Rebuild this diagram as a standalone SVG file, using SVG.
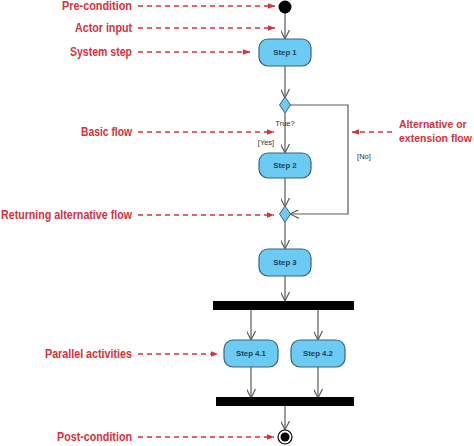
<svg xmlns="http://www.w3.org/2000/svg" width="474" height="446" viewBox="0 0 474 446">
<defs>
<style>
.lbl{font-family:"Liberation Sans",Arial,sans-serif;font-weight:bold;font-size:12px;fill:#d9303c}
.lbr{font-family:"Liberation Sans",Arial,sans-serif;font-weight:bold;font-size:10.5px;fill:#d9303c}
.note{stroke:#d9303c;stroke-width:1.3;stroke-dasharray:5,4;fill:none}
.act{fill:#6ccbf2;stroke:#3d6079;stroke-width:1.2}
.atxt{font-family:"Liberation Sans",Arial,sans-serif;font-size:7.8px;fill:#1e3e5a;text-anchor:middle;font-weight:bold}
.flow{stroke:#5a5a5a;stroke-width:1.2;fill:none;marker-end:url(#open)}
.small{font-family:"Liberation Sans",Arial,sans-serif;font-size:7.5px;fill:#333}
</style>
<marker id="open" viewBox="0 0 10 10" refX="9" refY="5" markerWidth="9" markerHeight="9" markerUnits="userSpaceOnUse" orient="auto">
<path d="M0,0 L10,5 L0,10" fill="none" stroke="#5a5a5a" stroke-width="1.3"/>
</marker>
<marker id="red" viewBox="0 0 10 10" refX="10" refY="5" markerWidth="7" markerHeight="7" markerUnits="userSpaceOnUse" orient="auto">
<path d="M0,1 L10,5 L0,9 Z" fill="#d9303c"/>
</marker>
</defs>
<rect width="474" height="446" fill="#ffffff"/>

<g id="connectors">
<path class="flow" d="M285,13 V38"/>
<path class="flow" d="M285,66 V97"/>
<path class="flow" d="M285,113 V152"/>
<path class="flow" d="M285,178 V206"/>
<path class="flow" d="M290,105 H348 V214 H291"/>
<path class="flow" d="M285,222 V248"/>
<path class="flow" d="M285,276 V300"/>
<path class="flow" d="M251,310 V339"/>
<path class="flow" d="M318,310 V339"/>
<path class="flow" d="M251,367 V397"/>
<path class="flow" d="M318,367 V397"/>
<path class="flow" d="M285,406 V429"/>
</g>

<g id="start"><circle cx="285" cy="7" r="6.5" fill="#000"/></g>
<g id="step1"><rect class="act" x="259" y="39" width="52" height="27" rx="9"/><text class="atxt" x="285" y="55">Step 1</text></g>
<g id="decision1"><path d="M285,97 L290.5,105 L285,113 L279.5,105 Z" fill="#6ccbf2" stroke="#3d6079" stroke-width="1"/></g>
<g id="step2"><rect class="act" x="259" y="153" width="52" height="25" rx="9"/><text class="atxt" x="285" y="168">Step 2</text></g>
<g id="merge1"><path d="M285,206 L290.5,214 L285,222 L279.5,214 Z" fill="#6ccbf2" stroke="#3d6079" stroke-width="1"/></g>
<g id="step3"><rect class="act" x="259" y="249" width="52" height="27" rx="9"/><text class="atxt" x="285" y="265">Step 3</text></g>
<g id="fork"><rect x="213" y="301" width="141" height="9" fill="#000"/></g>
<g id="step41"><rect class="act" x="224" y="340" width="54" height="27" rx="9"/><text class="atxt" x="251" y="356">Step 4.1</text></g>
<g id="step42"><rect class="act" x="291" y="340" width="54" height="27" rx="9"/><text class="atxt" x="318" y="356">Step 4.2</text></g>
<g id="join"><rect x="216" y="397" width="138" height="9" fill="#000"/></g>
<g id="end"><circle cx="285" cy="437" r="7" fill="#fff" stroke="#000" stroke-width="1.2"/><circle cx="285" cy="437" r="4.5" fill="#000"/></g>

<g id="guards">
<text class="small" x="285" y="126" text-anchor="middle">True?</text>
<text class="small" x="266" y="145" text-anchor="middle">[Yes]</text>
<text class="small" x="364" y="159" text-anchor="middle">[No]</text>
</g>

<g id="annotations">
<text class="lbl" x="62" y="10" textLength="70" lengthAdjust="spacingAndGlyphs">Pre-condition</text>
<path class="note" d="M138,6 H275" marker-end="url(#red)"/>
<text class="lbl" x="75" y="32" textLength="57" lengthAdjust="spacingAndGlyphs">Actor input</text>
<path class="note" d="M138,28 H275" marker-end="url(#red)"/>
<text class="lbl" x="70" y="56" textLength="62" lengthAdjust="spacingAndGlyphs">System step</text>
<path class="note" d="M138,52 H250" marker-end="url(#red)"/>
<text class="lbl" x="81" y="136" textLength="51" lengthAdjust="spacingAndGlyphs">Basic flow</text>
<path class="note" d="M138,132 H274" marker-end="url(#red)"/>
<text class="lbl" x="1" y="219" textLength="131" lengthAdjust="spacingAndGlyphs">Returning alternative flow</text>
<path class="note" d="M138,215 H274" marker-end="url(#red)"/>
<text class="lbr" x="399" y="128">Alternative or</text>
<text class="lbr" x="399" y="142">extension flow</text>
<path class="note" d="M392,132 H352" marker-end="url(#red)"/>
<text class="lbl" x="45" y="358" textLength="87" lengthAdjust="spacingAndGlyphs">Parallel activities</text>
<path class="note" d="M138,354 H218" marker-end="url(#red)"/>
<text class="lbl" x="57" y="441" textLength="75" lengthAdjust="spacingAndGlyphs">Post-condition</text>
<path class="note" d="M138,437 H274" marker-end="url(#red)"/>
</g>
</svg>
